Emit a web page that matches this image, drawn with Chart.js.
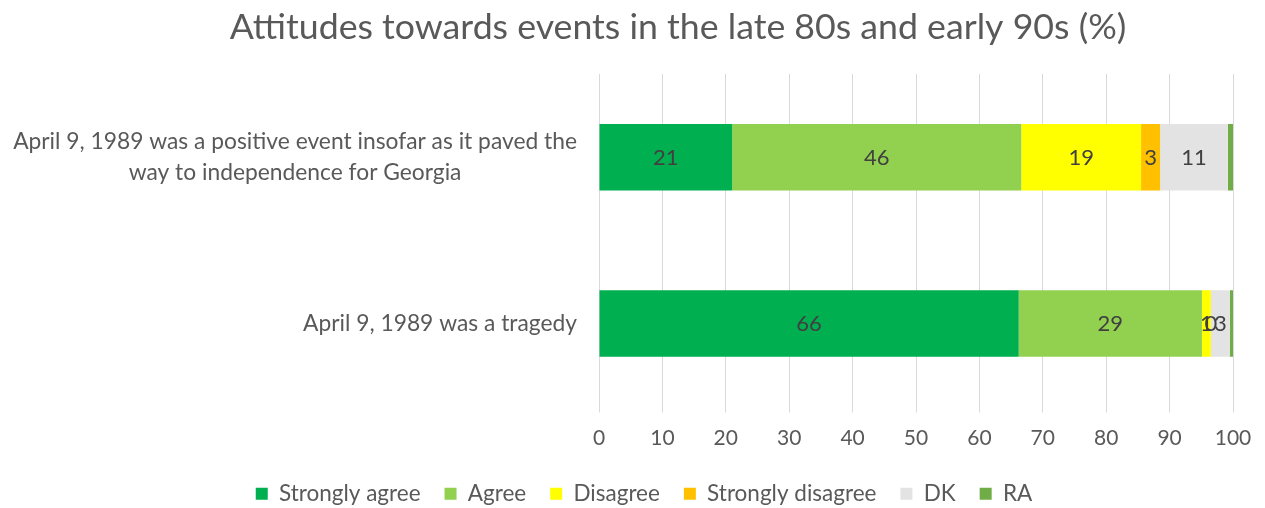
<!DOCTYPE html>
<html>
<head>
<meta charset="utf-8">
<script src="https://cdn.jsdelivr.net/npm/chart.js@4/dist/chart.umd.min.js"></script>
<style>
  html, body { margin: 0; padding: 0; background: #fff; }
  #wrap { width: 1265px; height: 508px; }
</style>
</head>
<body>
<div id="wrap"><canvas id="myChart" width="1265" height="508"></canvas></div>
<script>
var chartTitle = 'Attitudes towards events in the late 80s and early 90s (%)';
var categories = [
  ['April 9, 1989 was a positive event insofar as it paved the', 'way to independence for Georgia'],
  ['April 9, 1989 was a tragedy']
];
var seriesNames = ['Strongly agree', 'Agree', 'Disagree', 'Strongly disagree', 'DK', 'RA'];
var stronglyAgree = [21.0, 66.2];
var agree = [45.6, 28.9];
var disagree = [18.9, 1.4];
var stronglyDisagree = [3.0, 0];
var dk = [10.7, 3.0];
var ra = [0.8, 0.5];
var xTicks = [0, 10, 20, 30, 40, 50, 60, 70, 80, 90, 100];

var colors = ['#00B050', '#92D050', '#FFFF00', '#FFC000', '#E3E3E3', '#70AD47'];
var allValues = [stronglyAgree, agree, disagree, stronglyDisagree, dk, ra];
var FONT = 'Lato, "Open Sans", sans-serif';
var TEXT = '#595959';
var LEFT_PAD = 55;
var PLOT_LEFT = 599;

var datasets = [];
for (var i = 0; i < seriesNames.length; i++) {
  datasets.push({
    label: seriesNames[i],
    data: allValues[i],
    backgroundColor: colors[i],
    borderWidth: 0,
    barPercentage: 0.4,
    categoryPercentage: 1.0,
    showValue: i < 5
  });
}

// value labels in the middle of each segment
var valueLabels = {
  id: 'valueLabels',
  afterDatasetsDraw: function (chart) {
    var ctx = chart.ctx;
    ctx.save();
    ctx.font = '22px ' + FONT;
    ctx.fillStyle = '#404040';
    ctx.textAlign = 'center';
    ctx.textBaseline = 'middle';
    chart.data.datasets.forEach(function (ds, di) {
      if (!ds.showValue) return;
      var meta = chart.getDatasetMeta(di);
      meta.data.forEach(function (el, j) {
        var p = el.getCenterPoint();
        ctx.fillText(String(Math.round(ds.data[j])), p.x, p.y + 1);
      });
    });
    ctx.restore();
  }
};

// title and category labels (block right aligned, lines centred within it)
var textLayer = {
  id: 'textLayer',
  afterDraw: function (chart) {
    var ctx = chart.ctx;
    var yScale = chart.scales.y;
    ctx.save();
    ctx.fillStyle = TEXT;
    ctx.textBaseline = 'middle';
    ctx.textAlign = 'center';

    ctx.font = '35.7px ' + FONT;
    ctx.fillText(chartTitle, 678, 27);

    var right = chart.chartArea.left - 22;
    var lineH = 31;
    ctx.font = '22.8px ' + FONT;
    categories.forEach(function (lines, i) {
      var w = 0;
      lines.forEach(function (l) { w = Math.max(w, ctx.measureText(l).width); });
      var cx = right - w / 2;
      var cy = yScale.getPixelForValue(i);
      var y0 = cy - (lines.length - 1) * lineH / 2;
      lines.forEach(function (l, k) { ctx.fillText(l, cx, y0 + k * lineH); });
    });
    ctx.restore();
  }
};

var ctx = document.getElementById('myChart').getContext('2d');
var chart = new Chart(ctx, {
  type: 'bar',
  data: { labels: categories.map(function (c) { return c.join(' '); }), datasets: datasets },
  plugins: [valueLabels, textLayer],
  options: {
    indexAxis: 'y',
    responsive: false,
    animation: false,
    layout: { padding: { left: LEFT_PAD, right: 32, top: 74, bottom: -7 } },
    scales: {
      x: {
        stacked: true,
        min: 0,
        max: 100,
        afterBuildTicks: function (scale) {
          scale.ticks = xTicks.map(function (v) { return { value: v }; });
        },
        afterFit: function (scale) { scale.height = 52; },
        grid: { color: '#D9D9D9', lineWidth: 1, tickLength: 6, drawTicks: true },
        border: { display: false },
        ticks: { color: TEXT, font: { family: FONT, size: 21 }, padding: 13, maxRotation: 0 }
      },
      y: {
        stacked: true,
        grid: { display: false },
        border: { display: false },
        ticks: { display: false },
        afterFit: function (scale) { scale.width = PLOT_LEFT - LEFT_PAD; }
      }
    },
    plugins: {
      title: { display: false },
      legend: {
        position: 'bottom',
        labels: {
          color: TEXT,
          font: { family: FONT, size: 22.5 },
          boxWidth: 12,
          boxHeight: 12,
          padding: 24
        }
      },
      tooltip: { enabled: false }
    }
  }
});
</script>
</body>
</html>
